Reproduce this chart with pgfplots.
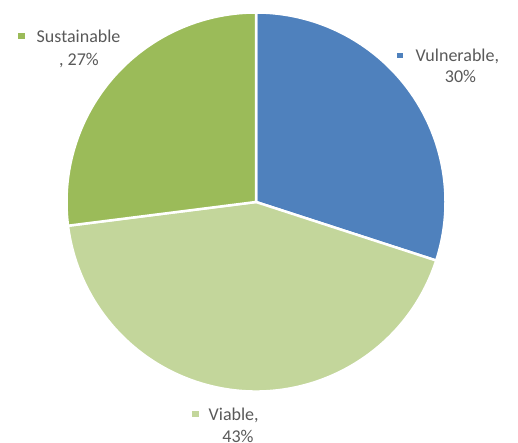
\documentclass[border=0pt]{standalone}
\usepackage{pgfplots}
\usepackage{pgfplotstable}
\pgfplotsset{compat=1.18}
\usepackage{fontspec}
\setmainfont{Carlito}
\definecolor{cVul}{HTML}{4F81BD}
\definecolor{cVia}{HTML}{C3D69B}
\definecolor{cSus}{HTML}{9BBB59}
\definecolor{txt}{HTML}{595959}

\pgfplotstableread{
label value
Vulnerable 30
Viable 43
Sustainable 27
}\piedata

% cumulative angles, clockwise from 12 o'clock
\pgfplotstablegetelem{0}{value}\of\piedata \edef\vA{\pgfplotsretval}
\pgfplotstablegetelem{1}{value}\of\piedata \edef\vB{\pgfplotsretval}
\pgfplotstablegetelem{2}{value}\of\piedata \edef\vC{\pgfplotsretval}
\pgfmathsetmacro{\aZero}{90}
\pgfmathsetmacro{\aOne}{90-3.6*\vA}
\pgfmathsetmacro{\aTwo}{\aOne-3.6*\vB}
\pgfmathsetmacro{\aThree}{\aTwo-3.6*\vC}

\newcommand\mk[2]{\textcolor{#1}{\raisebox{3.5pt}{\rule{#2}{#2}}}}

\begin{document}
\begin{tikzpicture}
\useasboundingbox (0,0) rectangle (518pt,443pt);
\clip (0,0) rectangle (518pt,443pt);
\begin{axis}[
  anchor=origin,
  x=1pt, y=1pt,
  xmin=0, xmax=518, ymin=0, ymax=443,
  hide axis,
  clip=false,
]
\def\R{189.5pt}
\fill[cVul, draw=white, line width=2.5pt, line join=miter]
  (axis cs:256,241) -- ++(\aZero:\R) arc[start angle=\aZero, end angle=\aOne, radius=\R] -- cycle;
\fill[cVia, draw=white, line width=2.5pt, line join=miter]
  (axis cs:256,241) -- ++(\aOne:\R) arc[start angle=\aOne, end angle=\aTwo, radius=\R] -- cycle;
\fill[cSus, draw=white, line width=2.5pt, line join=miter]
  (axis cs:256,241) -- ++(\aTwo:\R) arc[start angle=\aTwo, end angle=\aThree, radius=\R] -- cycle;

\tikzset{lab/.style={txt, font=\fontsize{18}{22}\selectfont, inner sep=0pt}}
% Vulnerable
\node[lab, anchor=base west] at (axis cs:397,381) {\mk{cVul}{5.5pt}\hspace{13pt}Vulnerable,};
\node[lab, anchor=base] at (axis cs:460.5,360) {\vA\%};
% Sustainable
\node[lab, anchor=base west] at (axis cs:18,400) {\mk{cSus}{6.5pt}\hspace{12pt}Sustainable};
\node[lab, anchor=base] at (axis cs:79,377) {, \vC\%};
% Viable
\node[lab, anchor=base west] at (axis cs:192,22) {\mk{cVia}{6.5pt}\hspace{10pt}Viable,};
\node[lab, anchor=base] at (axis cs:238,0) {\vB\%};
\end{axis}
\end{tikzpicture}
\end{document}
